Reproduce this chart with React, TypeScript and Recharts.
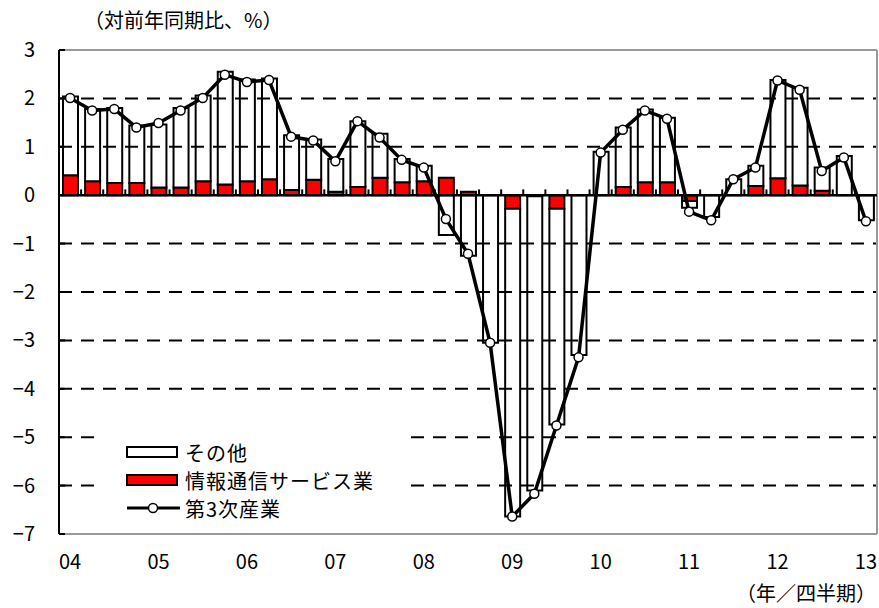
import React from 'react';
import { ComposedChart, Bar, Line, XAxis, YAxis, ReferenceLine } from 'recharts';

// 2004Q1 .. 2013Q1
const yearLabels = ['04', '05', '06', '07', '08', '09', '10', '11', '12', '13'];
const quarters = yearLabels.flatMap((y) => ['Q1', 'Q2', 'Q3', 'Q4'].map((q) => y + q)).slice(0, 37);

// その他
const otherValues = [
  1.63, 1.49, 1.55, 1.19, 1.3, 1.64, 1.77, 2.33, 2.1, 2.08,
  1.13, 0.83, 0.68, 1.36, 0.91, 0.48, 0.32, -0.82, -1.25, -3.05,
  -6.36, -6.08, -4.46, -3.3, 0.9, 1.23, 1.5, 1.33, -0.14, -0.45,
  0.33, 0.42, 2.03, 2.02, 0.48, 0.81, -0.52,
];
// 情報通信サービス業
const infoValues = [
  0.41, 0.29, 0.25, 0.25, 0.16, 0.16, 0.29, 0.22, 0.29, 0.33,
  0.11, 0.32, 0.07, 0.17, 0.36, 0.27, 0.29, 0.36, 0.07, 0,
  -0.28, -0.02, -0.28, 0, 0, 0.17, 0.27, 0.27, -0.12, 0,
  0, 0.19, 0.35, 0.2, 0.09, 0, 0,
];
// 第3次産業
const tertiaryValues = [
  2.01, 1.75, 1.78, 1.4, 1.49, 1.75, 2.01, 2.49, 2.34, 2.38,
  1.21, 1.13, 0.7, 1.53, 1.19, 0.73, 0.57, -0.49, -1.21, -3.05,
  -6.64, -6.17, -4.76, -3.35, 0.88, 1.35, 1.75, 1.58, -0.34, -0.52,
  0.33, 0.57, 2.37, 2.18, 0.5, 0.78, -0.54,
];

const yTicks = [-7, -6, -5, -4, -3, -2, -1, 0, 1, 2, 3];
const gridValues = [-6, -5, -4, -3, -2, -1, 1, 2];

const data = quarters.map((q, i) => ({
  q,
  other: otherValues[i],
  info: infoValues[i],
  total: tertiaryValues[i],
}));

const FONT = '"Noto Sans CJK JP", "Noto Sans", sans-serif';

const XTick = (props: any) => {
  const { x, y, payload } = props;
  const v = String(payload.value);
  if (!v.endsWith('Q1')) return <g />;
  return (
    <text x={x} y={y + 35} textAnchor="middle" fontSize={20} fontFamily={FONT} fill="#000">
      {v.slice(0, 2)}
    </text>
  );
};

const YTick = (props: any) => {
  const { x, y, payload } = props;
  const v = Number(payload.value);
  return (
    <g>
      <line x1={x} x2={x + 6} y1={y} y2={y} stroke="#000" strokeWidth={2} />
      <text x={x - 24} y={y + 7} textAnchor="end" fontSize={20} fontFamily={FONT} fill="#000">
        {v < 0 ? '−' + Math.abs(v) : String(v)}
      </text>
    </g>
  );
};

const LegendBox = () => (
  <div
    style={{
      position: 'absolute',
      left: 94,
      top: 425,
      width: 314,
      height: 105,
      background: '#fff',
      fontFamily: FONT,
      fontSize: 20,
      color: '#000',
    }}
  >
    {[
      { name: 'その他', kind: 'white' },
      { name: '情報通信サービス業', kind: 'red' },
      { name: '第3次産業', kind: 'line' },
    ].map((it, i) => (
      <div key={it.name} style={{ position: 'absolute', left: 32, top: 13 + i * 28, height: 28, display: 'flex', alignItems: 'center' }}>
        <svg width={56} height={20}>
          {it.kind === 'line' ? (
            <g>
              <line x1={1} x2={54} y1={10} y2={10} stroke="#000" strokeWidth={3} />
              <circle cx={27} cy={10} r={4.5} fill="#fff" stroke="#000" strokeWidth={1.5} />
            </g>
          ) : (
            <rect x={1} y={5} width={50} height={10} fill={it.kind === 'red' ? '#ff0000' : '#fff'} stroke="#000" strokeWidth={2} />
          )}
        </svg>
        <span style={{ marginLeft: 3, whiteSpace: 'nowrap', letterSpacing: 1 }}>{it.name}</span>
      </div>
    ))}
  </div>
);

export default function App() {
  return (
    <div style={{ position: 'absolute', left: 0, top: 0, width: 879, height: 608, background: '#fff', overflow: 'hidden' }}>
      <ComposedChart
        width={879}
        height={608}
        data={data}
        stackOffset="sign"
        margin={{ top: 50, right: 2, bottom: 0, left: 0 }}
      >
        {gridValues.map((v) => (
          <ReferenceLine key={'g' + v} y={v} stroke="#000" strokeWidth={2} strokeDasharray="13 9" />
        ))}
        <ReferenceLine y={3} stroke="#999" strokeWidth={2} />
        <ReferenceLine x={quarters[quarters.length - 1]} position="end" stroke="#999" strokeWidth={2} />
        <XAxis
          dataKey="q"
          interval={0}
          height={74}
          tickLine={false}
          tickSize={0}
          tickMargin={0}
          axisLine={{ stroke: '#999', strokeWidth: 2 }}
          tick={<XTick />}
        />
        <YAxis
          domain={[-7, 3]}
          ticks={yTicks}
          width={59}
          tickLine={false}
          tickSize={0}
          tickMargin={0}
          axisLine={{ stroke: '#000', strokeWidth: 2 }}
          tick={<YTick />}
          allowDataOverflow
        />
        <Bar dataKey="info" stackId="a" barSize={15} fill="#ff0000" stroke="#000" strokeWidth={2} isAnimationActive={false} />
        <Bar dataKey="other" stackId="a" barSize={15} fill="#fff" stroke="#000" strokeWidth={2} isAnimationActive={false} />
        <ReferenceLine y={0} stroke="#000" strokeWidth={2.5} />
        {quarters.slice(1).map((q) => (
          <ReferenceLine
            key={'t' + q}
            segment={[{ x: q, y: 0 }, { x: q, y: 0.12 }]}
            position="start"
            stroke="#000"
            strokeWidth={2}
          />
        ))}
        <Line
          dataKey="total"
          type="linear"
          stroke="#000"
          strokeWidth={3.5}
          dot={{ r: 4.5, fill: '#fff', stroke: '#000', strokeWidth: 1.5 }}
          isAnimationActive={false}
        />
      </ComposedChart>
      <div style={{ position: 'absolute', left: 84, top: 8, lineHeight: '24px', fontFamily: FONT, fontSize: 20, whiteSpace: 'nowrap' }}>
        （対前年同期比、%）
      </div>
      <div style={{ position: 'absolute', left: 736, top: 581, lineHeight: '24px', fontFamily: FONT, fontSize: 20, whiteSpace: 'nowrap' }}>
        （年／四半期）
      </div>
      <LegendBox />
    </div>
  );
}
